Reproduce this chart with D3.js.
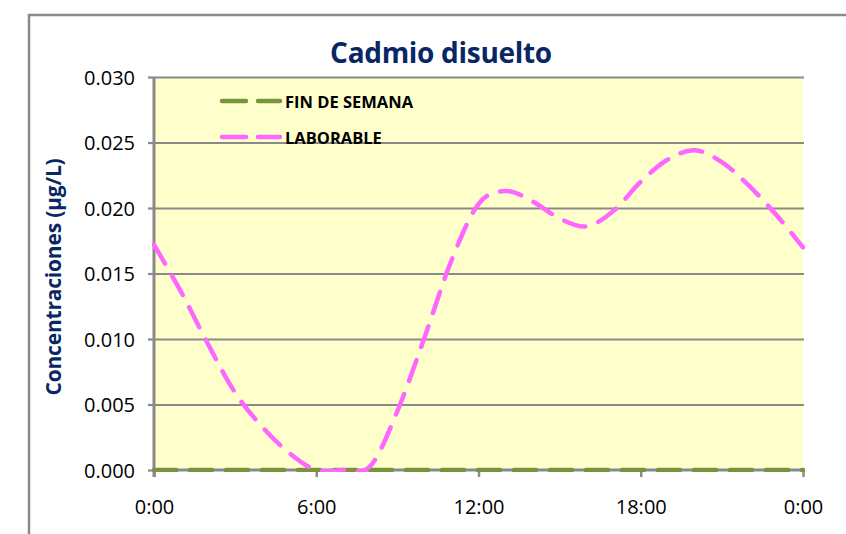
<!DOCTYPE html>
<html>
<head>
<meta charset="utf-8">
<script src="https://cdn.jsdelivr.net/npm/d3@7"></script>
<style>
  body { margin: 0; background: #fff; }
  svg { display: block; }
  .tickLbl { font-family: "Open Sans", sans-serif; font-size: 20px; fill: #000; }
</style>
</head>
<body>
<div id="cd_chart"></div>
<script>
// hours of the day (0 .. 24)
var hours = [0, 1, 2, 3, 4, 5, 6, 7, 8, 9, 10, 11, 12, 13, 14, 15, 16, 17, 18, 19, 20, 21, 22, 23, 24];
var finDeSemana = [0, 0, 0, 0, 0, 0, 0, 0, 0, 0, 0, 0, 0, 0, 0, 0, 0, 0, 0, 0, 0, 0, 0, 0, 0];
var laborable = [0.0172, 0.0136, 0.0096, 0.0059, 0.0033, 0.0013, 0.0000, 0.0000, 0.0003, 0.0045,
                 0.0101, 0.0160, 0.0203, 0.0213, 0.0205, 0.0192, 0.0186, 0.0198, 0.0220, 0.0237,
                 0.0244, 0.0235, 0.0217, 0.0195, 0.0170];
var seriesNames = ["FIN DE SEMANA", "LABORABLE"];
var xTickVals = [0, 6, 12, 18, 24];
var xTickLabels = ["0:00", "6:00", "12:00", "18:00", "0:00"];
var yTickVals = [0, 0.005, 0.010, 0.015, 0.020, 0.025, 0.030];

drawCadmioChart("cd_chart");

function drawCadmioChart(divIdStr){

  var W = 846, H = 534;
  var margin = {top: 77, right: 43, bottom: 64, left: 154};
  var width = W - margin.left - margin.right,
      height = H - margin.top - margin.bottom;
  var gridCol = "#8a8a8a";
  var navy = "#0a2765";

  var svg = d3.select("#" + divIdStr).append("svg")
    .attr("width", W)
    .attr("height", H);

  // outer chart frame (cropped on right / bottom)
  svg.append("path")
    .attr("d", "M29,540 L29,15 L860,15")
    .attr("fill", "none")
    .attr("stroke", gridCol)
    .attr("stroke-width", 2.5);

  var x = d3.scaleLinear().domain([0, 24]).range([0, width]);
  var y = d3.scaleLinear().domain([0, 0.03]).range([height, 0]);

  var g = svg.append("g")
    .attr("transform", "translate(" + margin.left + "," + margin.top + ")");

  g.append("rect")
    .attr("width", width)
    .attr("height", height)
    .attr("fill", "#ffffcc");

  // horizontal gridlines
  g.append("g")
    .attr("class", "grid")
    .call(d3.axisLeft(y).tickValues(yTickVals.slice(1)).tickSize(-width - 1).tickFormat(""))
    .call(function(s){
      s.select(".domain").remove();
      s.selectAll("line").attr("stroke", gridCol).attr("stroke-width", 2.2);
    });

  // y axis
  g.append("g")
    .attr("class", "yAxis")
    .call(d3.axisLeft(y).tickValues(yTickVals).tickSize(6).tickPadding(13)
      .tickFormat(d3.format(".3f")))
    .call(function(s){
      s.select(".domain").attr("d", "M0," + (height + 7) + "V0").attr("stroke", gridCol).attr("stroke-width", 3);
      s.selectAll(".tick line").attr("stroke", gridCol).attr("stroke-width", 2.2);
      s.selectAll(".tick text").attr("class", "tickLbl").attr("dy", "0.35em");
    });

  // x axis
  g.append("g")
    .attr("class", "xAxis")
    .attr("transform", "translate(0," + height + ")")
    .call(d3.axisBottom(x).tickValues(xTickVals).tickSize(7).tickPadding(23)
      .tickFormat(function(d, i){ return xTickLabels[i]; }))
    .call(function(s){
      s.select(".domain").attr("d", "M0,0H" + (width + 1)).attr("stroke", gridCol).attr("stroke-width", 3);
      s.selectAll(".tick line").attr("stroke", gridCol).attr("stroke-width", 2.5);
      s.selectAll(".tick text").attr("class", "tickLbl").attr("dy", "0.71em");
    });

  // series
  svg.append("clipPath").attr("id", "plotClip")
    .append("rect").attr("x", -2).attr("y", -4).attr("width", width + 4).attr("height", height + 6);

  var line = d3.line()
    .x(function(d){ return x(d[0]); })
    .y(function(d){ return y(d[1]); })
    .curve(d3.curveCatmullRom.alpha(0));

  var series = [
    {name: seriesNames[0], vals: finDeSemana, color: "#77933c"},
    {name: seriesNames[1], vals: laborable, color: "#ff66ff"}
  ];

  var sg = g.append("g").attr("clip-path", "url(#plotClip)");
  series.forEach(function(s){
    sg.append("path")
      .datum(hours.map(function(h, i){ return [h, s.vals[i]]; }))
      .attr("d", line)
      .attr("fill", "none")
      .attr("stroke", s.color)
      .attr("stroke-width", 4.5)
      .attr("stroke-linecap", "round")
      .attr("stroke-dasharray", "22,14");
  });

  // legend
  var lg = svg.append("g").attr("class", "legend");
  series.forEach(function(s, i){
    var ly = 101 + i * 36;
    lg.append("line")
      .attr("x1", 222).attr("x2", 280)
      .attr("y1", ly).attr("y2", ly)
      .attr("stroke", s.color)
      .attr("stroke-width", 4.5)
      .attr("stroke-linecap", "round")
      .attr("stroke-dasharray", "24,12");
    lg.append("text")
      .attr("x", 285).attr("y", ly + 7)
      .attr("font-family", "Open Sans, sans-serif")
      .attr("font-weight", "bold")
      .attr("font-size", "16.5px")
      .attr("fill", "#000")
      .text(s.name);
  });

  // title
  svg.append("text")
    .attr("x", 441).attr("y", 63)
    .attr("text-anchor", "middle")
    .attr("font-family", "Open Sans, sans-serif")
    .attr("font-weight", "bold")
    .attr("font-size", "28px")
    .attr("letter-spacing", "-0.3px")
    .attr("fill", navy)
    .text("Cadmio disuelto");

  // y axis title
  svg.append("text")
    .attr("transform", "translate(61," + 277 + ") rotate(-90)")
    .attr("text-anchor", "middle")
    .attr("font-family", "Open Sans, sans-serif")
    .attr("font-weight", "bold")
    .attr("font-size", "21px")
    .attr("letter-spacing", "-0.2px")
    .attr("fill", navy)
    .text("Concentraciones (µg/L)");
}
</script>
</body>
</html>
